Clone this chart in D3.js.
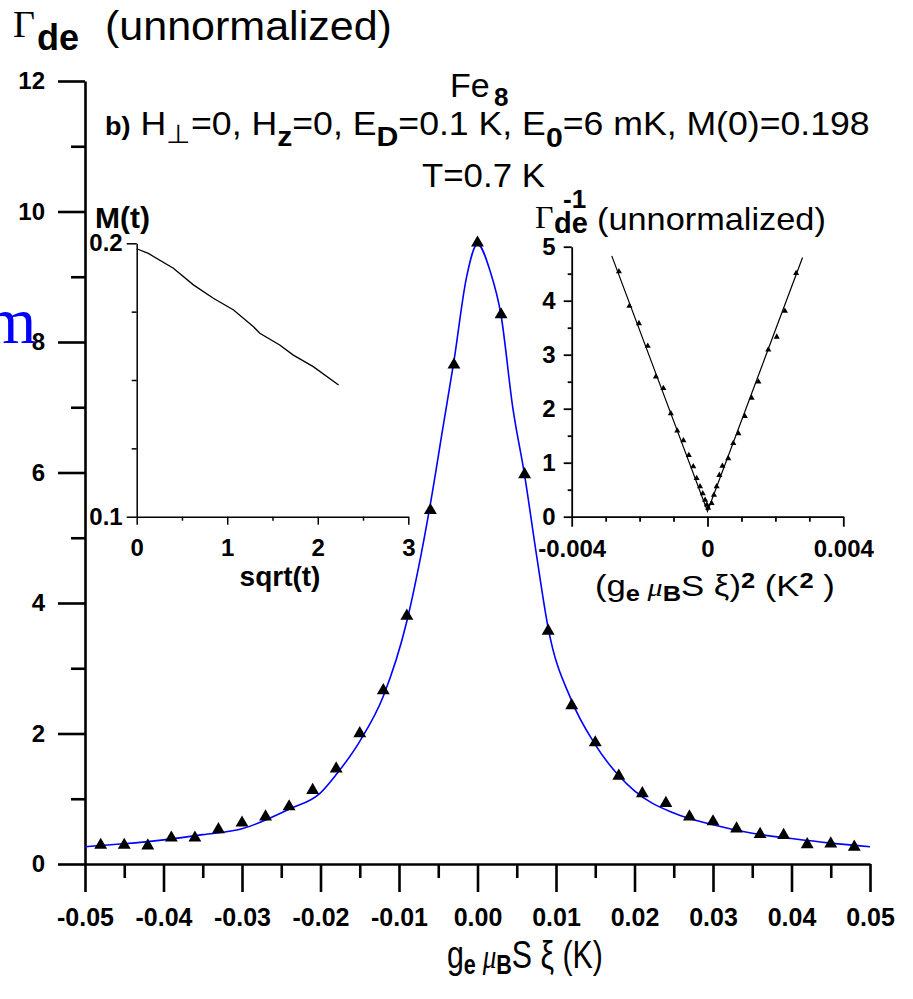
<!DOCTYPE html>
<html><head><meta charset="utf-8">
<script src="https://cdn.jsdelivr.net/npm/d3@7"></script>
<style>html,body{margin:0;padding:0;background:#fff}svg{display:block}text{white-space:pre}</style>
</head><body>
<svg id="c" width="913" height="999"></svg>
<script>
// ---------------- data ----------------
const xiValues = [-0.048,-0.045,-0.042,-0.039,-0.036,-0.033,-0.030,-0.027,-0.024,-0.021,-0.018,-0.015,-0.012,-0.009,-0.006,-0.003,
  0.000,0.003,0.006,0.009,0.012,0.015,0.018,0.021,0.024,0.027,0.030,0.033,0.036,0.039,0.042,0.045,0.048];
const gammaValues = [0.29,0.29,0.28,0.40,0.40,0.53,0.63,0.725,0.88,1.13,1.46,2.00,2.66,3.80,5.42,7.65,
  9.52,8.42,5.97,3.57,2.43,1.86,1.35,1.08,0.93,0.725,0.65,0.54,0.455,0.44,0.30,0.31,0.26];
const fitXi = [-0.05,-0.045,-0.04,-0.035,-0.03,-0.024,-0.02,-0.018,-0.015,-0.012,-0.009,-0.0075,-0.006,-0.0044,-0.003,-0.0014,
  0,0.0016,0.003,0.0045,0.006,0.0075,0.009,0.012,0.015,0.02,0.025,0.03,0.035,0.04,0.045,0.05];
const fitGamma = [0.265,0.31,0.37,0.45,0.54,0.84,1.09,1.37,1.88,2.57,3.72,4.55,5.52,6.69,7.71,8.99,
  9.50,9.09,8.41,6.99,5.96,4.75,3.62,2.50,1.83,1.12,0.78,0.60,0.47,0.39,0.32,0.265];
const sqrtT = [0,0.128,0.405,0.626,0.847,1.07,1.29,1.36,1.58,1.73,1.95,2.23];
const magnetization = [0.198,0.1963,0.1909,0.1848,0.1799,0.1756,0.1695,0.1671,0.1628,0.1591,0.1549,0.1482];
const xi2Values = [-0.00261,-0.00230,-0.00202,-0.00176,-0.00152,-0.00130,-0.00108,-0.00089,-0.00071,-0.00055,-0.00042,-0.00032,-0.00022,-0.00014,-0.00007,-0.00002,0.00002,
  0.00012,0.00019,0.00027,0.00035,0.00044,0.00061,0.00076,0.00091,0.00110,0.00130,0.00150,0.00179,0.00204,0.00228,0.00261];
const invGamma = [4.54,3.90,3.58,3.16,2.59,2.38,1.91,1.59,1.41,1.14,0.93,0.71,0.56,0.43,0.31,0.22,0.16,
  0.25,0.40,0.56,0.77,0.94,1.08,1.36,1.54,1.86,2.20,2.50,3.09,3.33,3.81,4.51];
const invFitXi2 = [-0.00282,0,0.0028];
const invFitGamma = [4.83,0.10,4.80];

const mainXTicks = [-0.05,-0.04,-0.03,-0.02,-0.01,0,0.01,0.02,0.03,0.04,0.05];
const mainXTickLabels = ["-0.05","-0.04","-0.03","-0.02","-0.01","0.00","0.01","0.02","0.03","0.04","0.05"];
const mainXMinor = [-0.045,-0.035,-0.025,-0.015,-0.005,0.005,0.015,0.025,0.035,0.045];
const mainYTicks = [0,2,4,6,8,10,12];
const mainYMinor = [1,3,5,7,9,11];
const leftXTicks = [0,1,2,3];
const leftXMinor = [0.5,1.5,2.5];
const leftYTicks = [0.1,0.2];
const leftYTickLabels = ["0.1","0.2"];
const leftYMinor = [0.125,0.15,0.175];
const rightXTicks = [-0.004,0,0.004];
const rightXTickLabels = ["-0.004","0","0.004"];
const rightXMinor = [-0.003,-0.002,-0.001,0.001,0.002,0.003];
const rightYTicks = [0,1,2,3,4,5];
const rightYMinor = [0.5,1.5,2.5,3.5,4.5];

// ---------------- setup ----------------
const SANS = "'Liberation Sans', Arial, sans-serif";
const SERIF = "'Liberation Serif', 'Times New Roman', serif";
const svg = d3.select('#c');

function axis(orient, scale, tx, ty, o) {
  const mk = orient === 'bottom' ? d3.axisBottom : d3.axisLeft;
  const gMin = svg.append('g').attr('transform', `translate(${tx},${ty})`)
    .call(mk(scale).tickValues(o.minor).tickSize(o.minorSize).tickSizeOuter(0).tickFormat(''));
  gMin.select('.domain').remove();
  gMin.selectAll('line').attr('stroke', '#000').attr('stroke-width', o.sw);
  const gMaj = svg.append('g').attr('transform', `translate(${tx},${ty})`)
    .call(mk(scale).tickValues(o.major).tickSize(o.majorSize).tickSizeOuter(0).tickPadding(o.pad)
      .tickFormat((d, i) => o.labels[i]));
  gMaj.select('.domain').attr('stroke', '#000').attr('stroke-width', o.sw);
  gMaj.selectAll('line').attr('stroke', '#000').attr('stroke-width', o.sw);
  gMaj.selectAll('text').attr('font-family', SANS).attr('font-weight', 'bold')
    .attr('font-size', o.fs).attr('fill', '#000');
  gMaj.attr('font-family', null).attr('font-size', null);
  return gMaj;
}

function rich(x, y, parts, anchor) {
  const t = svg.append('text').attr('x', x).attr('y', y).attr('fill', '#000')
    .attr('text-anchor', anchor || 'start');
  let prev = 0;
  parts.forEach(p => {
    const off = p.off || 0;
    t.append('tspan').attr('dy', off - prev).attr('font-size', p.size)
      .attr('font-weight', p.bold ? 'bold' : 'normal')
      .attr('font-style', p.italic ? 'italic' : 'normal')
      .attr('font-family', p.fam || SANS).text(p.t);
    prev = off;
  });
  return t;
}
function fitX(t, x0, x1) {
  const w = t.node().getComputedTextLength();
  const s = (x1 - x0) / w;
  t.attr('transform', `translate(${x0},0) scale(${s},1) translate(${-x0},0)`);
}

// ---------------- main chart ----------------
const xM = d3.scaleLinear().domain([-0.05, 0.05]).range([85, 870]);
const yM = d3.scaleLinear().domain([0, 12]).range([864, 81]);

axis('bottom', xM, 0, yM(0), {major: mainXTicks, labels: mainXTickLabels, minor: mainXMinor,
  majorSize: 28, minorSize: 14, pad: 16, fs: 25, sw: 2.6});
axis('left', yM, xM(-0.05), 0, {major: mainYTicks, labels: mainYTicks.map(String), minor: mainYMinor,
  majorSize: 27, minorSize: 14, pad: 13, fs: 24, sw: 2.6});

const fitPts = fitXi.map((x, i) => [x, fitGamma[i]]);
svg.append('path').datum(fitPts)
  .attr('d', d3.line().x(d => xM(d[0])).y(d => yM(d[1])).curve(d3.curveMonotoneX))
  .attr('fill', 'none').attr('stroke', '#0000ff').attr('stroke-width', 1.6);

const tri = d3.symbol(d3.symbolTriangle, 72);
svg.append('g').selectAll('path').data(xiValues.map((x, i) => [x, gammaValues[i]])).join('path')
  .attr('d', tri).attr('transform', d => `translate(${xM(d[0])},${yM(d[1])})`).attr('fill', '#000');

// ---------------- left inset ----------------
const xL = d3.scaleLinear().domain([0, 3]).range([136.7, 408.3]);
const yL = d3.scaleLinear().domain([0.1, 0.2]).range([516.7, 243.3]);
axis('bottom', xL, 0, yL(0.1), {major: leftXTicks, labels: leftXTicks.map(String), minor: leftXMinor,
  majorSize: 8, minorSize: 4, pad: 14, fs: 24, sw: 1.5});
axis('left', yL, xL(0), 0, {major: leftYTicks, labels: leftYTickLabels, minor: leftYMinor,
  majorSize: 10, minorSize: 5, pad: 4, fs: 24, sw: 1.5});
svg.append('path').datum(sqrtT.map((x, i) => [x, magnetization[i]]))
  .attr('d', d3.line().x(d => xL(d[0])).y(d => yL(d[1])))
  .attr('fill', 'none').attr('stroke', '#000').attr('stroke-width', 1.3);

// ---------------- right inset ----------------
const xR = d3.scaleLinear().domain([-0.004, 0.004]).range([571.7, 843.3]);
const yR = d3.scaleLinear().domain([0, 5]).range([516.7, 246.7]);
axis('bottom', xR, 0, yR(0), {major: rightXTicks, labels: rightXTickLabels, minor: rightXMinor,
  majorSize: 10, minorSize: 5, pad: 13, fs: 24, sw: 1.8});
axis('left', yR, xR(-0.004), 0, {major: rightYTicks, labels: rightYTicks.map(String), minor: rightYMinor,
  majorSize: 8, minorSize: 4, pad: 8, fs: 24, sw: 1.8});
svg.append('path').datum(invFitXi2.map((x, i) => [x, invFitGamma[i]]))
  .attr('d', d3.line().x(d => xR(d[0])).y(d => yR(d[1])))
  .attr('fill', 'none').attr('stroke', '#000').attr('stroke-width', 1.2);
const triS = d3.symbol(d3.symbolTriangle, 16);
svg.append('g').selectAll('path').data(xi2Values.map((x, i) => [x, invGamma[i]])).join('path')
  .attr('d', triS).attr('transform', d => `translate(${xR(d[0])},${yR(d[1])})`).attr('fill', '#000');

// ---------------- texts ----------------
// clipped blue letter at left edge
svg.append('text').attr('x', -15).attr('y', 343).attr('font-family', SERIF).attr('font-size', 66)
  .attr('fill', '#0000ff').text('m');

// top-left axis title
svg.append('text').attr('x', 13).attr('y', 37).attr('font-family', SERIF).attr('font-size', 38).text('Γ');
svg.append('text').attr('x', 37).attr('y', 50).attr('font-family', SANS).attr('font-weight', 'bold')
  .attr('font-size', 36).text('de');
fitX(svg.append('text').attr('x', 105).attr('y', 40).attr('font-family', SANS).attr('font-size', 40)
  .text('(unnormalized)'), 105, 392);

// Fe8
svg.append('text').attr('x', 450).attr('y', 97).attr('font-family', SANS).attr('font-size', 34).text('Fe');
svg.append('text').attr('x', 494).attr('y', 106).attr('font-family', SANS).attr('font-weight', 'bold')
  .attr('font-size', 26).text('8');

// parameter line
const par = rich(105, 135, [
  {t: 'b)', size: 25, bold: true},
  {t: ' H', size: 33},
  {t: '⊥', size: 26, off: 8},
  {t: '=0, H', size: 33},
  {t: 'z', size: 28, bold: true, off: 11},
  {t: '=0, E', size: 33},
  {t: 'D', size: 28, bold: true, off: 11},
  {t: '=0.1 K, E', size: 33},
  {t: '0', size: 28, bold: true, off: 12},
  {t: '=6 mK, M(0)=0.198', size: 33}
]);
fitX(par, 105, 870);

const tT = svg.append('text').attr('x', 422).attr('y', 187).attr('font-family', SANS).attr('font-size', 34).text('T=0.7 K');
fitX(tT, 422, 545);

// left inset labels
svg.append('text').attr('x', 95).attr('y', 228).attr('font-family', SANS).attr('font-weight', 'bold')
  .attr('font-size', 30).text('M(t)');
svg.append('text').attr('x', 280).attr('y', 586).attr('text-anchor', 'middle').attr('font-family', SANS)
  .attr('font-weight', 'bold').attr('font-size', 28).text('sqrt(t)');

// right inset title
svg.append('text').attr('x', 535).attr('y', 228).attr('font-family', SERIF).attr('font-size', 32).text('Γ');
svg.append('text').attr('x', 563).attr('y', 208).attr('font-family', SANS).attr('font-weight', 'bold')
  .attr('font-size', 26).text('-1');
svg.append('text').attr('x', 554).attr('y', 233).attr('font-family', SANS).attr('font-weight', 'bold')
  .attr('font-size', 29).text('de');
fitX(svg.append('text').attr('x', 597).attr('y', 230).attr('font-family', SANS).attr('font-size', 32)
  .text('(unnormalized)'), 597, 826);

// right inset x title
const rt = rich(595, 596, [
  {t: '(g', size: 30},
  {t: 'e', size: 22, bold: true, off: 5},
  {t: ' μ', size: 26, italic: true, fam: SERIF},
  {t: 'B', size: 22, bold: true, off: 5},
  {t: 'S ξ)', size: 30},
  {t: '2', size: 22, bold: true, off: -8},
  {t: ' (K', size: 30},
  {t: '2', size: 22, bold: true, off: -8},
  {t: ' )', size: 30}
]);
fitX(rt, 595, 835);

// main x title
const mt = rich(447, 968, [
  {t: 'g', size: 38},
  {t: 'e', size: 27, bold: true, off: 6},
  {t: ' μ', size: 34, italic: true, fam: SERIF},
  {t: 'B', size: 27, bold: true, off: 6},
  {t: 'S ξ (K)', size: 38}
]);
fitX(mt, 447, 603);
</script>
</body></html>
